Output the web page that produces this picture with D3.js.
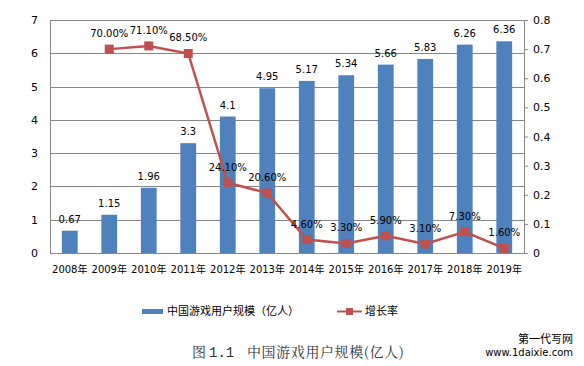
<!DOCTYPE html>
<meta charset="utf-8">
<script src="https://d3js.org/d3.v7.min.js"></script>
<style>
  body { margin: 0; background: #fff; }
  text { font-family: "DejaVu Sans", "Noto Sans CJK SC", sans-serif; fill: #000; }
</style>
<div id="my_dataviz"></div>
<script>

// data
var years = ["2008年", "2009年", "2010年", "2011年", "2012年", "2013年",
             "2014年", "2015年", "2016年", "2017年", "2018年", "2019年"];
var users = [0.67, 1.15, 1.96, 3.3, 4.1, 4.95, 5.17, 5.34, 5.66, 5.83, 6.26, 6.36];
var growth = [null, 0.700, 0.711, 0.685, 0.241, 0.206, 0.046, 0.033, 0.059, 0.031, 0.073, 0.016];
var leftTicks = [0, 1, 2, 3, 4, 5, 6, 7];
var rightTicks = [0, 0.1, 0.2, 0.3, 0.4, 0.5, 0.6, 0.7, 0.8];

var W = 584, H = 366;
var margin = {top: 20, right: 60, bottom: 113, left: 50},
    width = W - margin.left - margin.right,
    height = H - margin.top - margin.bottom;

var svg = d3.select("#my_dataviz")
  .append("svg")
    .attr("width", W)
    .attr("height", H);

var g = svg.append("g")
    .attr("transform", "translate(" + margin.left + "," + margin.top + ")");

var x = d3.scaleBand()
  .domain(years)
  .range([0, width])
  .paddingInner(0.6)
  .paddingOuter(0.3);

var y = d3.scaleLinear().domain([0, 7]).range([height, 0]);
var y2 = d3.scaleLinear().domain([0, 0.8]).range([height, 0]);

// gridlines
g.append("g")
  .selectAll("line")
  .data(leftTicks)
  .enter()
  .append("line")
    .attr("x1", 0)
    .attr("x2", width)
    .attr("y1", function(d){ return Math.round(y(d)) + 0.5; })
    .attr("y2", function(d){ return Math.round(y(d)) + 0.5; })
    .style("stroke", "#868686")
    .style("stroke-width", 1);

// left axis
var yAxis = g.append("g")
  .call(d3.axisLeft(y).tickValues(leftTicks).tickSize(0).tickPadding(12)
    .tickFormat(d3.format("d")));
yAxis.select(".domain").style("stroke", "#868686");
yAxis.selectAll("text")
  .style("font-size", "11px")
  .style("font-family", "DejaVu Sans");

// right axis
var y2Axis = g.append("g")
  .attr("transform", "translate(" + width + ",0)")
  .call(d3.axisRight(y2).tickValues(rightTicks).tickSize(4).tickPadding(5)
    .tickFormat(function(d){ return d === 0 ? "0" : d3.format(".1f")(d); }));
y2Axis.select(".domain").style("stroke", "#868686");
y2Axis.selectAll("line").style("stroke", "#868686");
y2Axis.selectAll("text")
  .style("font-size", "11px")
  .style("font-family", "DejaVu Sans");

// bottom axis
var xAxis = g.append("g")
  .attr("transform", "translate(0," + height + ")")
  .call(d3.axisBottom(x).tickSize(0).tickPadding(13));
xAxis.select(".domain").style("stroke", "#868686");
xAxis.selectAll("text")
  .style("font-size", "10px")
  .style("font-family", "DejaVu Sans, Noto Sans CJK SC");

// bars
g.append("g")
  .selectAll("rect")
  .data(users)
  .enter()
  .append("rect")
    .attr("x", function(d, i){ return x(years[i]); })
    .attr("y", function(d){ return y(d); })
    .attr("width", x.bandwidth())
    .attr("height", function(d){ return height - y(d); })
    .style("fill", "#4f81bd");

// bar labels
g.append("g")
  .selectAll("text")
  .data(users)
  .enter()
  .append("text")
    .attr("x", function(d, i){ return x(years[i]) + x.bandwidth() / 2; })
    .attr("y", function(d){ return y(d) - 8; })
    .attr("text-anchor", "middle")
    .style("font-size", "10px")
    .text(function(d){ return d; });

// growth line
var pts = growth.map(function(d, i){ return {year: years[i], v: d}; })
  .filter(function(d){ return d.v !== null; });

var line = d3.line()
  .x(function(d){ return x(d.year) + x.bandwidth() / 2; })
  .y(function(d){ return y2(d.v); });

g.append("path")
  .datum(pts)
  .attr("d", line)
  .style("fill", "none")
  .style("stroke", "#c0504d")
  .style("stroke-width", 2.5);

g.append("g")
  .selectAll("rect")
  .data(pts)
  .enter()
  .append("rect")
    .attr("x", function(d){ return x(d.year) + x.bandwidth() / 2 - 4.5; })
    .attr("y", function(d){ return y2(d.v) - 4.5; })
    .attr("width", 9)
    .attr("height", 9)
    .style("fill", "#c0504d");

g.append("g")
  .selectAll("text")
  .data(pts)
  .enter()
  .append("text")
    .attr("x", function(d){ return x(d.year) + x.bandwidth() / 2; })
    .attr("y", function(d){ return y2(d.v) - 12; })
    .attr("text-anchor", "middle")
    .style("font-size", "10px")
    .text(function(d){ return d3.format(".2%")(d.v); });

// legend
var legend = svg.append("g");
legend.append("rect")
  .attr("x", 142).attr("y", 309)
  .attr("width", 21).attr("height", 5)
  .style("fill", "#4f81bd");
legend.append("text")
  .attr("x", 167).attr("y", 315)
  .style("font-size", "11px")
  .style("font-family", "Noto Sans CJK SC")
  .text("中国游戏用户规模（亿人）");
legend.append("line")
  .attr("x1", 337).attr("x2", 362)
  .attr("y1", 311.5).attr("y2", 311.5)
  .style("stroke", "#c0504d")
  .style("stroke-width", 2);
legend.append("rect")
  .attr("x", 346).attr("y", 308)
  .attr("width", 7).attr("height", 7)
  .style("fill", "#c0504d");
legend.append("text")
  .attr("x", 365).attr("y", 315)
  .style("font-size", "11px")
  .style("font-family", "Noto Sans CJK SC")
  .text("增长率");

// caption
svg.append("text")
  .attr("x", 192).attr("y", 357)
  .style("font-size", "14px")
  .style("font-family", "Noto Serif CJK SC, Noto Sans CJK SC, serif")
  .style("fill", "#333")
  .text("图");
svg.append("text")
  .attr("x", 209).attr("y", 357)
  .style("font-size", "14px")
  .style("font-family", "Liberation Mono, monospace")
  .style("fill", "#333")
  .text("1.1");
svg.append("text")
  .attr("x", 247).attr("y", 357)
  .style("font-size", "14px")
  .style("letter-spacing", "0.6px")
  .style("font-family", "Noto Serif CJK SC, Noto Sans CJK SC, serif")
  .style("fill", "#333")
  .text("中国游戏用户规模(亿人)");

// watermark
svg.append("text")
  .attr("x", 573).attr("y", 343)
  .attr("text-anchor", "end")
  .style("font-size", "11px")
  .style("font-family", "Noto Sans CJK SC")
  .text("第一代写网");
svg.append("text")
  .attr("x", 573).attr("y", 356)
  .attr("text-anchor", "end")
  .style("font-size", "10px")
  .style("font-family", "DejaVu Sans")
  .text("www.1daixie.com");

</script>
